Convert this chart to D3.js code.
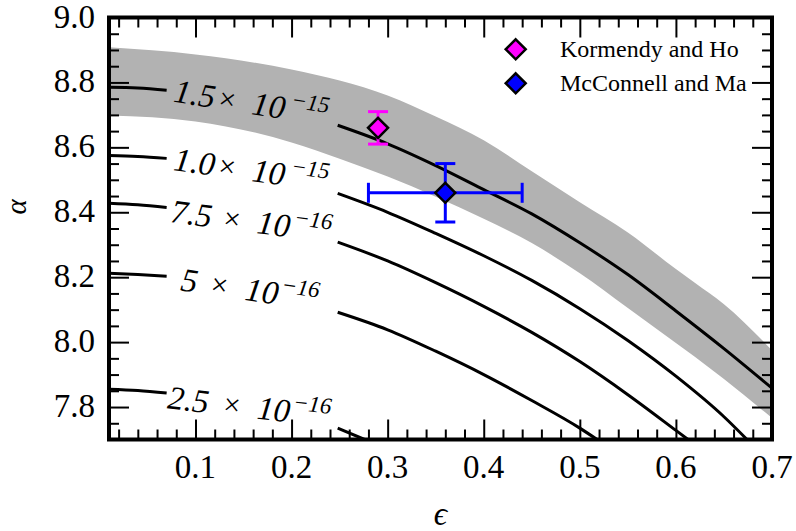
<!DOCTYPE html>
<html><head><meta charset="utf-8">
<script src="https://cdn.jsdelivr.net/npm/d3@7/dist/d3.min.js"></script>
<style>body{margin:0;background:#fff}svg{display:block}</style>
</head><body><svg id="c" width="796" height="531"></svg>
<script>
// ---- data ----
const xMajor = [0.1, 0.2, 0.3, 0.4, 0.5, 0.6, 0.7];
const xTickLabels = ["0.1","0.2","0.3","0.4","0.5","0.6","0.7"];
const yMajor = [7.8, 8.0, 8.2, 8.4, 8.6, 8.8, 9.0];
const yTickLabels = ["7.8","8.0","8.2","8.4","8.6","8.8","9.0"];

const bandEps   = [0.01, 0.1, 0.2, 0.25, 0.3, 0.35, 0.4, 0.45, 0.5, 0.55, 0.6, 0.62, 0.65, 0.7];
const bandUpper = [8.908, 8.886, 8.840, 8.806, 8.760, 8.695, 8.622, 8.526, 8.431, 8.338, 8.225, 8.182, 8.117, 7.975];
const bandLower = [8.698, 8.680, 8.615, 8.565, 8.510, 8.448, 8.380, 8.305, 8.212, 8.105, 7.997, 7.954, 7.886, 7.766];

const levelMantissa = ["1.5", "1.0", "7.5", "5", "2.5"];
const levelExponent = ["\u221215", "\u221215", "\u221216", "\u221216", "\u221216"];

const leftEps = [0.01, 0.04, 0.07];
const leftAlpha = [
  [8.785, 8.783, 8.776],
  [8.575, 8.572, 8.566],
  [8.428, 8.423, 8.415],
  [8.212, 8.208, 8.203],
  [7.855, 7.851, 7.843]
];
const rightEps = [
  [0.248, 0.30, 0.35, 0.40, 0.45, 0.50, 0.55, 0.60, 0.65, 0.70],
  [0.248, 0.30, 0.35, 0.40, 0.45, 0.50, 0.55, 0.60, 0.65, 0.674],
  [0.248, 0.30, 0.35, 0.40, 0.45, 0.50, 0.55, 0.60, 0.6126],
  [0.248, 0.30, 0.35, 0.40, 0.45, 0.50, 0.518],
  [0.248, 0.276]
];
const rightAlpha = [
  [8.668, 8.611, 8.544, 8.470, 8.395, 8.306, 8.208, 8.096, 7.980, 7.858],
  [8.458, 8.400, 8.335, 8.266, 8.190, 8.103, 8.005, 7.895, 7.770, 7.700],
  [8.308, 8.250, 8.183, 8.110, 8.030, 7.940, 7.838, 7.728, 7.700],
  [8.092, 8.038, 7.972, 7.900, 7.820, 7.735, 7.700],
  [7.735, 7.700]
];
// contour label anchors (data coords)
const labelEps   = [0.0764, 0.0764, 0.0733, 0.0837, 0.0701];
const labelAlpha = [8.741, 8.530, 8.370, 8.160, 7.796];

const seriesNames = ["Kormendy and Ho", "McConnell and Ma"];
const seriesColors = ["#ff00ff", "#0000ff"];
const pointEps = [0.29, 0.36];
const pointAlpha = [8.66, 8.46];
const pointXErr = [0, 0.08];
const pointYErr = [0.05, 0.09];

// ---- layout ----
const FONT = "Liberation Serif";
const L = 109, R = 772, T = 17.5, B = 439.5;
const x = d3.scaleLinear().domain([0.01, 0.7]).range([L, R]);
const y = d3.scaleLinear().domain([7.7, 9.0]).range([B, T]);
const svg = d3.select("#c");

svg.append("defs").append("clipPath").attr("id","clip")
  .append("rect").attr("x",L).attr("y",T).attr("width",R-L).attr("height",B-T);
const plot = svg.append("g").attr("clip-path","url(#clip)");

// band
const area = d3.area().curve(d3.curveMonotoneX)
  .x((d,i)=>x(bandEps[i])).y0((d,i)=>y(bandLower[i])).y1((d,i)=>y(bandUpper[i]));
plot.append("path").attr("d", area(bandEps)).attr("fill","#b2b2b2");

// contours
const line = d3.line().curve(d3.curveMonotoneX);
leftAlpha.forEach((arr,k)=>{
  plot.append("path").attr("d", line(arr.map((a,i)=>[x(leftEps[i]), y(a)])))
    .attr("fill","none").attr("stroke","#000").attr("stroke-width",3);
  plot.append("path").attr("d", line(rightAlpha[k].map((a,i)=>[x(rightEps[k][i]), y(a)])))
    .attr("fill","none").attr("stroke","#000").attr("stroke-width",3);
});

// contour labels
const labLayout = [
  {rot: 9,   xs: [0,45,79,117]},
  {rot: 8,   xs: [0,45,79,117]},
  {rot: 7.3, xs: [0,53,87,123]},
  {rot: 8.5, xs: [0,30,65,100]},
  {rot: 6.5, xs: [0,56,90,125]}
];
levelMantissa.forEach((m,k)=>{
  const g = svg.append("g").attr("transform",`translate(${x(labelEps[k])},${y(labelAlpha[k])}) rotate(${labLayout[k].rot})`);
  const t = g.append("text").attr("font-family",FONT).attr("font-size",33).attr("fill","#000");
  const xs = labLayout[k].xs;
  t.append("tspan").attr("x",xs[0]).attr("y",0).attr("font-style","italic").text(m);
  t.append("tspan").attr("x",xs[1]).attr("y",-1).attr("font-size",30).text("\u00d7");
  t.append("tspan").attr("x",xs[2]).attr("y",0).attr("font-style","italic").text("10");
  t.append("tspan").attr("x",xs[3]).attr("y",-13).attr("font-style","italic").attr("font-size",23).text(levelExponent[k]);
});

// error bars and points
const diamond = r => `M0,${-r}L${r},0L0,${r}L${-r},0Z`;
pointEps.forEach((e,i)=>{
  const c = seriesColors[i];
  const g = svg.append("g");
  if (pointXErr[i] > 0) {
    g.append("line").attr("x1",x(e-pointXErr[i])).attr("x2",x(e+pointXErr[i]))
      .attr("y1",y(pointAlpha[i])).attr("y2",y(pointAlpha[i])).attr("stroke",c).attr("stroke-width",3);
    [e-pointXErr[i], e+pointXErr[i]].forEach(v=>g.append("line").attr("x1",x(v)).attr("x2",x(v))
      .attr("y1",y(pointAlpha[i])-10).attr("y2",y(pointAlpha[i])+10).attr("stroke",c).attr("stroke-width",3));
  }
  g.append("line").attr("x1",x(e)).attr("x2",x(e))
    .attr("y1",y(pointAlpha[i]-pointYErr[i])).attr("y2",y(pointAlpha[i]+pointYErr[i])).attr("stroke",c).attr("stroke-width",3);
  [pointAlpha[i]-pointYErr[i], pointAlpha[i]+pointYErr[i]].forEach(v=>g.append("line").attr("x1",x(e)-10).attr("x2",x(e)+10)
    .attr("y1",y(v)).attr("y2",y(v)).attr("stroke",c).attr("stroke-width",3));
  g.append("path").attr("d",diamond(10)).attr("transform",`translate(${x(e)},${y(pointAlpha[i])})`)
    .attr("fill",c).attr("stroke","#000").attr("stroke-width",2.5);
});

// ticks
const xMinor = d3.range(0.02, 0.7001, 0.02).filter(v=>Math.abs(v*10-Math.round(v*10))>1e-6);
const yMinor = d3.range(7.75, 9.0, 0.05).filter(v=>Math.abs(v*5-Math.round(v*5))>1e-6);
function ticks(axisFn, scale, vals, size, tr){
  const g = svg.append("g").attr("transform",tr)
    .call(axisFn(scale).tickValues(vals).tickSize(-size).tickFormat(""));
  g.select(".domain").remove();
  g.selectAll("text").remove();
  g.selectAll("line").attr("stroke","#000").attr("stroke-width",2);
  return g;
}
ticks(d3.axisBottom, x, xMajor, 20, `translate(0,${B})`);
ticks(d3.axisBottom, x, xMinor, 10, `translate(0,${B})`);
ticks(d3.axisTop, x, xMajor, 20, `translate(0,${T})`);
ticks(d3.axisTop, x, xMinor, 10, `translate(0,${T})`);
ticks(d3.axisLeft, y, yMajor, 20, `translate(${L},0)`);
ticks(d3.axisLeft, y, yMinor, 10, `translate(${L},0)`);
ticks(d3.axisRight, y, yMajor, 20, `translate(${R},0)`);
ticks(d3.axisRight, y, yMinor, 10, `translate(${R},0)`);

// frame
svg.append("rect").attr("x",L).attr("y",T).attr("width",R-L).attr("height",B-T)
  .attr("fill","none").attr("stroke","#000").attr("stroke-width",4);

// tick labels
svg.append("g").selectAll("text").data(xMajor).join("text")
  .attr("x",d=>x(d)).attr("y",478).attr("text-anchor","middle")
  .attr("font-family",FONT).attr("font-size",33).text((d,i)=>xTickLabels[i]);
svg.append("g").selectAll("text").data(yMajor).join("text")
  .attr("x",95).attr("y",d=>y(d)+10).attr("text-anchor","end")
  .attr("font-family",FONT).attr("font-size",33).text((d,i)=>yTickLabels[i]);

// axis titles
svg.append("text").attr("x",(L+R)/2).attr("y",525).attr("text-anchor","middle")
  .attr("font-family",FONT).attr("font-style","italic").attr("font-size",33).text("\u03f5");
svg.append("text").attr("transform","translate(26,207) rotate(-90)").attr("text-anchor","middle")
  .attr("font-family",FONT).attr("font-style","italic").attr("font-size",29).text("\u03b1");

// legend
seriesNames.forEach((n,i)=>{
  const cy = 49.3 + i*34;
  svg.append("path").attr("d",diamond(10)).attr("transform",`translate(515.7,${cy})`)
    .attr("fill",seriesColors[i]).attr("stroke","#000").attr("stroke-width",2.5);
  svg.append("text").attr("x",560).attr("y",cy+7.5).attr("font-family",FONT).attr("font-size",24).text(n);
});
</script></body></html>
